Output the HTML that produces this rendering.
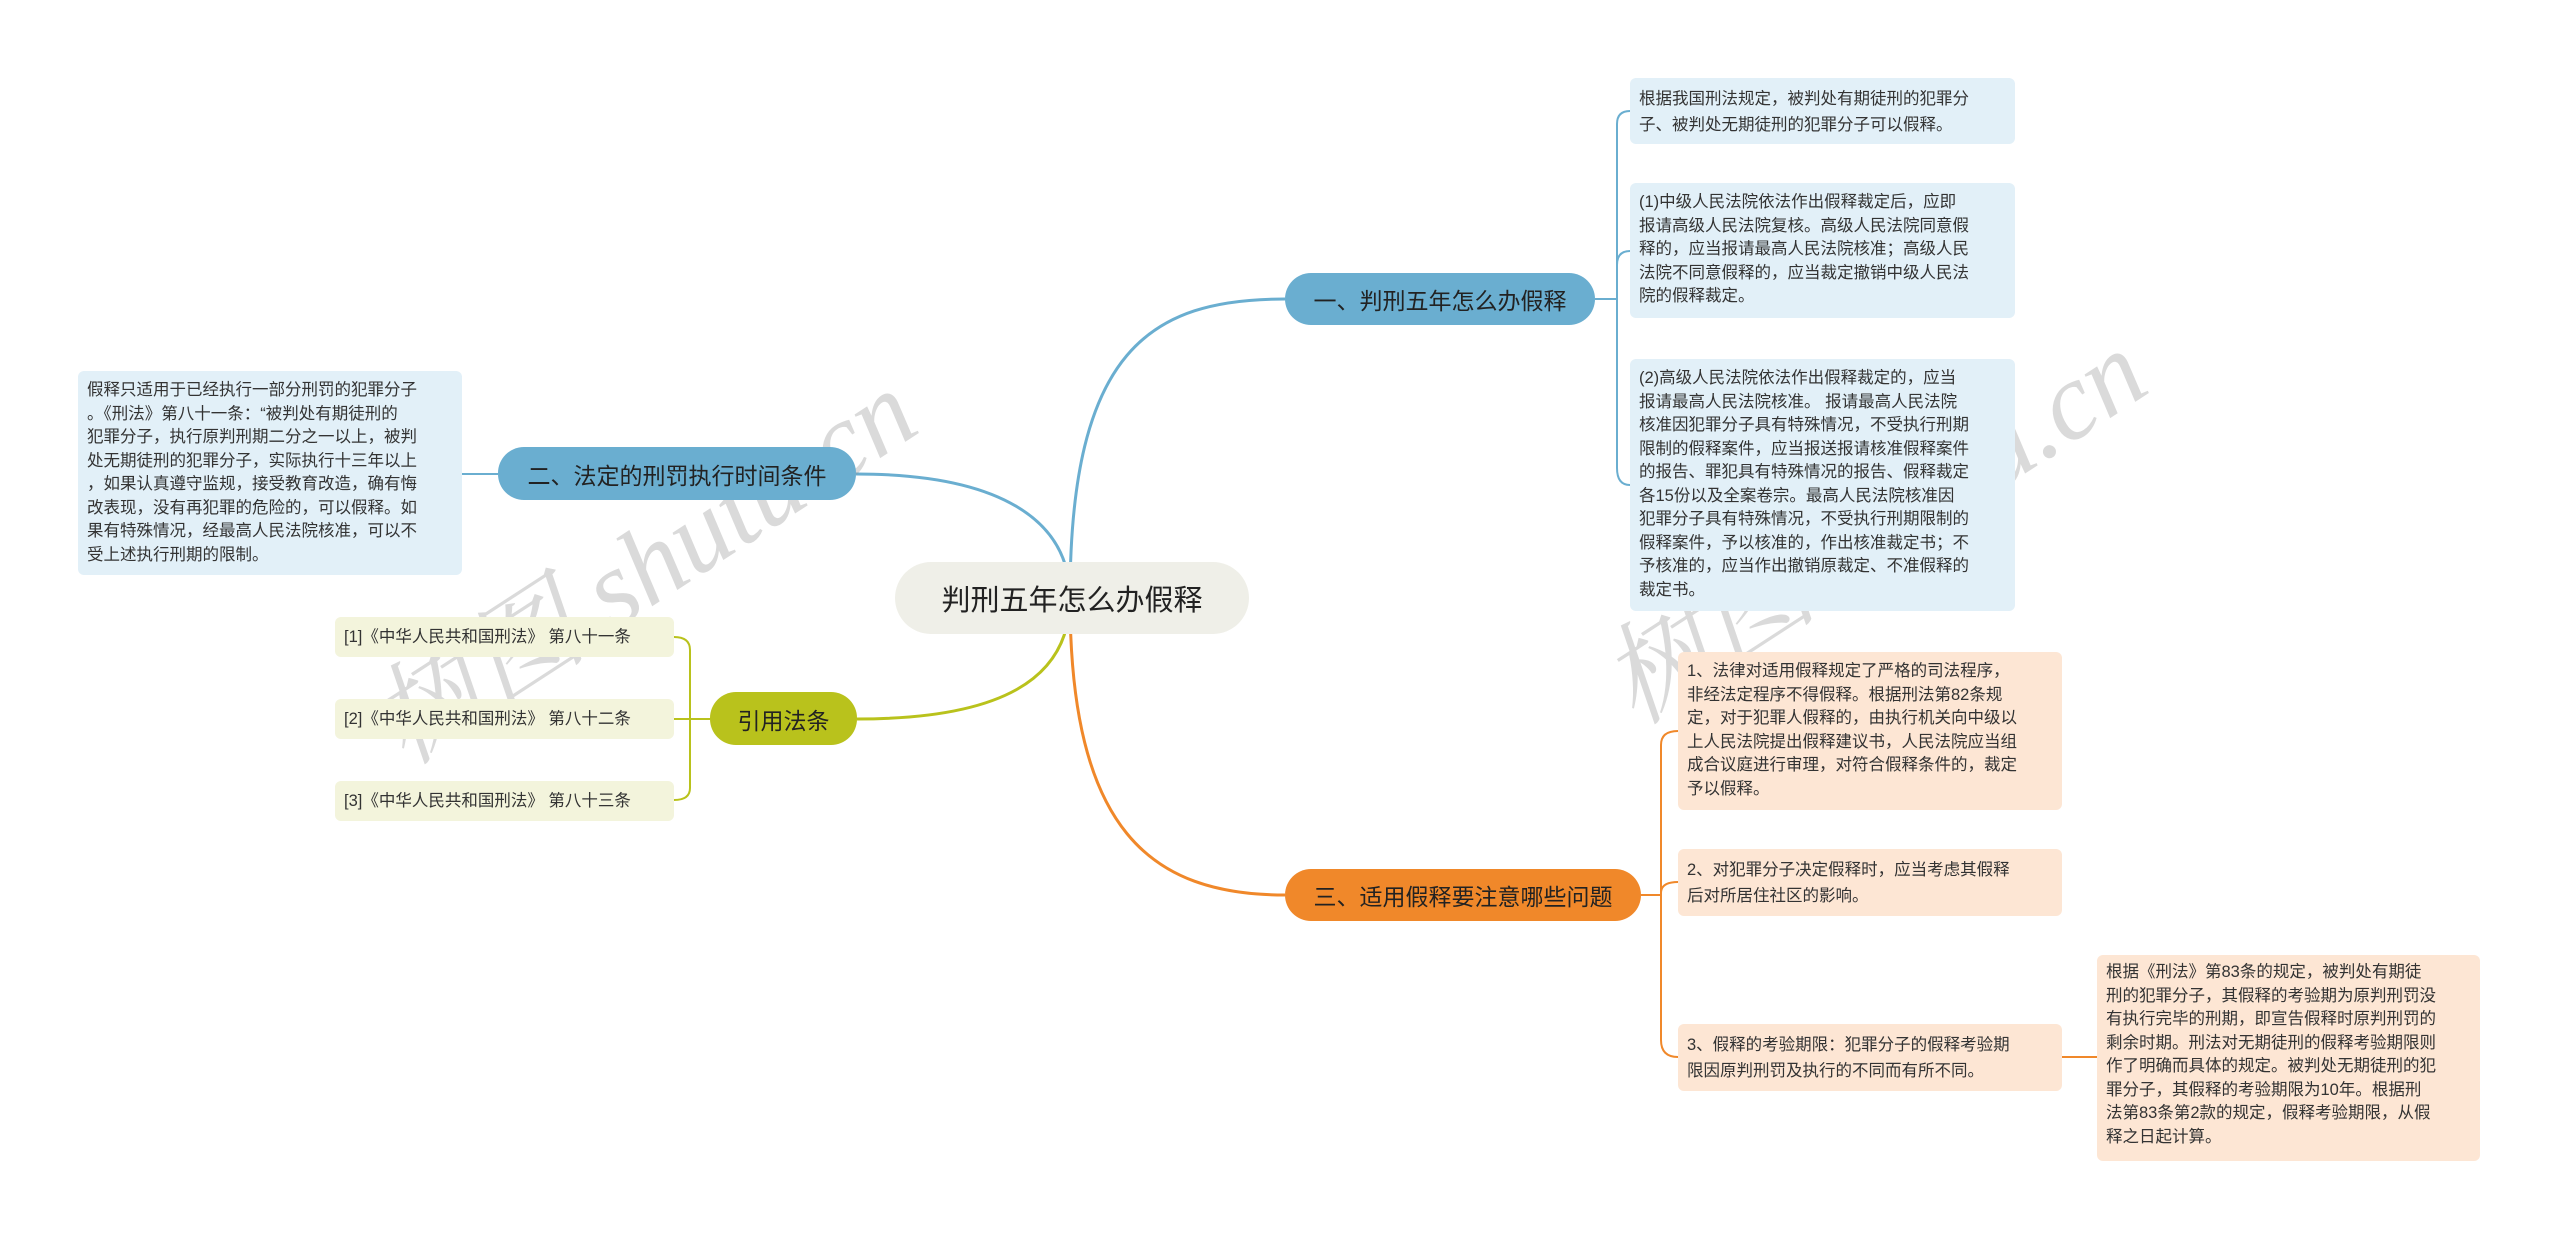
<!DOCTYPE html>
<html><head><meta charset="utf-8">
<style>
html,body{margin:0;padding:0;background:#fff;}
body{width:2560px;height:1241px;position:relative;overflow:hidden;font-family:"Liberation Sans","Noto Sans CJK SC",sans-serif;}
.b{position:absolute;box-sizing:border-box;}
.leaf{font-size:16.5px;line-height:24px;color:#333;padding:8px 9px;border-radius:6px;white-space:nowrap;overflow:hidden;}
.blue{background:#e2f0f8;}
.or{background:#fde6d4;}
.yl{background:#f3f4dc;}
.br{border-radius:26px;font-size:23px;color:#222;display:flex;align-items:center;justify-content:center;white-space:nowrap;}
.wm{position:absolute;font-family:"Liberation Serif","Noto Serif CJK SC",serif;font-style:italic;font-size:110px;color:rgba(150,150,150,0.35);transform:rotate(-33deg);white-space:nowrap;}
</style></head><body>
<svg class="b" style="left:0;top:0" width="2560" height="1241">
<g fill="none" stroke-width="3">
<path d="M1070 598 C1070 350,1150 299,1285 299" stroke="#6aaed0"/>
<path d="M1070 598 C1070 520,1000 474,856 474" stroke="#6aaed0"/>
<path d="M1070 598 C1070 680,1000 719,857 719" stroke="#b9c21c"/>
<path d="M1070 598 C1070 830,1150 895,1285 895" stroke="#f0882a"/>
</g>
<g fill="none" stroke-width="2">
<path d="M1595 299 H1617 M1617 299 V124 Q1617 111 1630 111 M1617 299 V265 Q1617 251 1630 251 M1617 299 V468 Q1617 485 1630 485" stroke="#6aaed0"/>
<path d="M498 474 H462" stroke="#6aaed0"/>
<path d="M710 719 H690 M690 719 V650 Q690 637 674 637 M690 719 H674 M690 719 V788 Q690 800 674 800" stroke="#b9c21c"/>
<path d="M1641 895 H1661 M1661 895 V745 Q1661 731 1678 731 M1661 895 V893 Q1661 882 1678 882 M1661 895 V1040 Q1661 1057 1678 1057 M2062 1057 H2097" stroke="#f0882a"/>
</g>
</svg>
<div class="wm" style="left:330px;top:480px;">树图 shutu.cn</div>
<div class="wm" style="left:1560px;top:440px;">树图 shutu.cn</div>

<div class="b br" style="left:895px;top:562px;width:354px;height:72px;background:#efefe8;border-radius:36px;font-size:29px;">判刑五年怎么办假释</div>

<div class="b br" style="left:1285px;top:273px;width:310px;height:52px;background:#6aaed0;">一、判刑五年怎么办假释</div>
<div class="b br" style="left:498px;top:447px;width:358px;height:53px;background:#6aaed0;">二、法定的刑罚执行时间条件</div>
<div class="b br" style="left:710px;top:692px;width:147px;height:53px;background:#b9c21c;">引用法条</div>
<div class="b br" style="left:1285px;top:869px;width:356px;height:52px;background:#f0882a;">三、适用假释要注意哪些问题</div>

<div class="b leaf blue" style="left:1630px;top:78px;width:385px;height:66px;padding-top:8px;line-height:26px;">根据我国刑法规定，被判处有期徒刑的犯罪分<br>子、被判处无期徒刑的犯罪分子可以假释。</div>
<div class="b leaf blue" style="left:1630px;top:183px;width:385px;height:135px;padding-top:8px;line-height:23.5px;">(1)中级人民法院依法作出假释裁定后，应即<br>报请高级人民法院复核。高级人民法院同意假<br>释的，应当报请最高人民法院核准；高级人民<br>法院不同意假释的，应当裁定撤销中级人民法<br>院的假释裁定。</div>
<div class="b leaf blue" style="left:1630px;top:359px;width:385px;height:252px;padding-top:8px;line-height:23.5px;">(2)高级人民法院依法作出假释裁定的，应当<br>报请最高人民法院核准。 报请最高人民法院<br>核准因犯罪分子具有特殊情况，不受执行刑期<br>限制的假释案件，应当报送报请核准假释案件<br>的报告、罪犯具有特殊情况的报告、假释裁定<br>各15份以及全案卷宗。最高人民法院核准因<br>犯罪分子具有特殊情况，不受执行刑期限制的<br>假释案件，予以核准的，作出核准裁定书；不<br>予核准的，应当作出撤销原裁定、不准假释的<br>裁定书。</div>

<div class="b leaf blue" style="left:78px;top:371px;width:384px;height:204px;padding-top:8px;line-height:23.5px;">假释只适用于已经执行一部分刑罚的犯罪分子<br>。《刑法》第八十一条：“被判处有期徒刑的<br>犯罪分子，执行原判刑期二分之一以上，被判<br>处无期徒刑的犯罪分子，实际执行十三年以上<br>，如果认真遵守监规，接受教育改造，确有悔<br>改表现，没有再犯罪的危险的，可以假释。如<br>果有特殊情况，经最高人民法院核准，可以不<br>受上述执行刑期的限制。</div>

<div class="b leaf yl" style="left:335px;top:617px;width:339px;height:40px;padding-top:8px;">[1]《中华人民共和国刑法》 第八十一条</div>
<div class="b leaf yl" style="left:335px;top:699px;width:339px;height:40px;padding-top:8px;">[2]《中华人民共和国刑法》 第八十二条</div>
<div class="b leaf yl" style="left:335px;top:781px;width:339px;height:40px;padding-top:8px;">[3]《中华人民共和国刑法》 第八十三条</div>

<div class="b leaf or" style="left:1678px;top:652px;width:384px;height:158px;padding-top:8px;line-height:23.5px;">1、法律对适用假释规定了严格的司法程序，<br>非经法定程序不得假释。根据刑法第82条规<br>定，对于犯罪人假释的，由执行机关向中级以<br>上人民法院提出假释建议书，人民法院应当组<br>成合议庭进行审理，对符合假释条件的，裁定<br>予以假释。</div>
<div class="b leaf or" style="left:1678px;top:849px;width:384px;height:67px;padding-top:8px;line-height:26px;">2、对犯罪分子决定假释时，应当考虑其假释<br>后对所居住社区的影响。</div>
<div class="b leaf or" style="left:1678px;top:1024px;width:384px;height:67px;padding-top:8px;line-height:26px;">3、假释的考验期限：犯罪分子的假释考验期<br>限因原判刑罚及执行的不同而有所不同。</div>
<div class="b leaf or" style="left:2097px;top:955px;width:383px;height:206px;padding-top:6px;line-height:23.5px;">根据《刑法》第83条的规定，被判处有期徒<br>刑的犯罪分子，其假释的考验期为原判刑罚没<br>有执行完毕的刑期，即宣告假释时原判刑罚的<br>剩余时期。刑法对无期徒刑的假释考验期限则<br>作了明确而具体的规定。被判处无期徒刑的犯<br>罪分子，其假释的考验期限为10年。根据刑<br>法第83条第2款的规定，假释考验期限，从假<br>释之日起计算。</div>
</body></html>
